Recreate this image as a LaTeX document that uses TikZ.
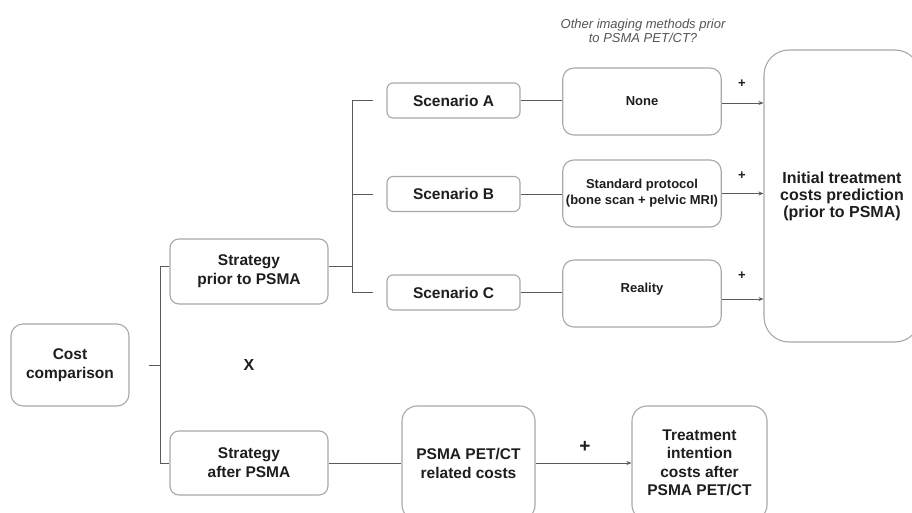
\documentclass[tikz,border=0pt]{standalone}
\usepackage{fontspec}
\setmainfont{Liberation Sans}
\usetikzlibrary{arrows.meta}
\definecolor{boxgray}{HTML}{A8A8A8}
\definecolor{linegray}{HTML}{5A5A5A}
\definecolor{textdark}{HTML}{1E1E1E}
\definecolor{notegray}{HTML}{555555}
\tikzset{
  box/.style={draw=boxgray, line width=1.1pt, text=textdark, align=center, inner sep=2pt,
    font=\fontsize{15.5}{19}\selectfont\bfseries},
  smallbox/.style={box, font=\fontsize{13}{16}\selectfont\bfseries},
  conn/.style={draw=linegray, line width=0.9pt},
  arr/.style={conn, -{Stealth[length=5pt,width=4pt]}},
  plus/.style={text=textdark, font=\fontsize{13}{13}\selectfont\bfseries, inner sep=0pt},
}
\begin{document}
\begin{tikzpicture}[x=1pt,y=-1pt]
\path[use as bounding box, fill=white] (0,0) rectangle (912,513);
\clip (0,0) rectangle (912,513);

% nodes
\node[box, rounded corners=12pt, minimum width=118pt, minimum height=82pt] (cost) at (70,365) {Cost\\comparison};
\node[box, rounded corners=9pt, minimum width=158pt, minimum height=65pt] (sprior) at (249,271.5) {Strategy\\prior to PSMA};
\node[box, rounded corners=9pt, minimum width=158pt, minimum height=64pt] (safter) at (249,463) {Strategy\\after PSMA};
\node[box, rounded corners=6pt, minimum width=133pt, minimum height=35pt] (scA) at (453.5,100.5) {Scenario A};
\node[box, rounded corners=6pt, minimum width=133pt, minimum height=35pt] (scB) at (453.5,194) {Scenario B};
\node[box, rounded corners=6pt, minimum width=133pt, minimum height=35pt] (scC) at (453.5,292.5) {Scenario C};
\node[smallbox, rounded corners=11pt, minimum width=158.5pt, minimum height=67pt] (none) at (642,101.5) {None};
\node[smallbox, rounded corners=11pt, minimum width=158.5pt, minimum height=67pt, inner sep=0pt] (std) at (642,193.5) {Standard protocol\\(bone scan + pelvic MRI)};
\node[smallbox, rounded corners=11pt, minimum width=158.5pt, minimum height=67pt, text depth=12pt] (real) at (642,293.5) {Reality};
\node[box, rounded corners=25pt, minimum width=156pt, minimum height=292pt, font=\fontsize{16}{17}\selectfont\bfseries] (big) at (842,196) {Initial treatment\\costs prediction\\(prior to PSMA)};
\node[box, rounded corners=15pt, minimum width=133pt, minimum height=114pt] (psma) at (468.5,463) {PSMA PET/CT\\related costs};
\node[box, rounded corners=15pt, minimum width=135pt, minimum height=114pt, font=\fontsize{15.5}{18.5}\selectfont\bfseries] (treat) at (699.5,463) {Treatment\\intention\\costs after\\PSMA PET/CT};

\node[text=notegray, font=\fontsize{13}{14}\selectfont\itshape, align=center, inner sep=0pt] (note) at (643,31) {Other imaging methods prior\\to PSMA PET/CT?};
\node[text=textdark, font=\fontsize{16}{16}\selectfont\bfseries, inner sep=0pt] (times) at (249,365) {X};
\node[plus] (pA) at (742,84) {+};
\node[plus] (pB) at (742,176) {+};
\node[plus] (pC) at (742,276) {+};
\node[plus, font=\fontsize{19}{19}\selectfont\bfseries] (pD) at (585,447) {+};

% tree from cost comparison
\coordinate (cstart) at (149,365);
\coordinate (j1) at (160,266);
\coordinate (j2) at (160,463);
\draw[conn] (cstart) -- (cstart -| j1);
\draw[conn] (j1 -| sprior.west) -- (j1) -- (j2) -- (j2 -| safter.west);

% tree from strategy prior
\coordinate (k) at (352,266);
\coordinate (kA) at (352,100.5);
\coordinate (kB) at (352,194);
\coordinate (kC) at (352,292.5);
\coordinate (eA) at (373,100.5);
\coordinate (eB) at (373,194);
\coordinate (eC) at (373,292.5);
\draw[conn] (k -| sprior.east) -- (k);
\draw[conn] (kA) -- (kC);
\draw[conn] (kA) -- (eA);
\draw[conn] (kB) -- (eB);
\draw[conn] (kC) -- (eC);

% scenarios to imaging
\draw[conn] (scA.east) -- (scA.east -| none.west);
\draw[conn] (scB.east) -- (scB.east -| std.west);
\draw[conn] (scC.east) -- (scC.east -| real.west);

% imaging to big box
\draw[arr] ([yshift=-1.5pt]none.east) -- ([yshift=-1.5pt]none.east -| big.west);
\draw[arr] (std.east) -- (std.east -| big.west);
\draw[arr] ([yshift=-5.5pt]real.east) -- ([yshift=-5.5pt]real.east -| big.west);

% bottom row
\draw[conn] (safter.east) -- (psma.west);
\draw[arr] (psma.east) -- (treat.west);
\end{tikzpicture}
\end{document}
